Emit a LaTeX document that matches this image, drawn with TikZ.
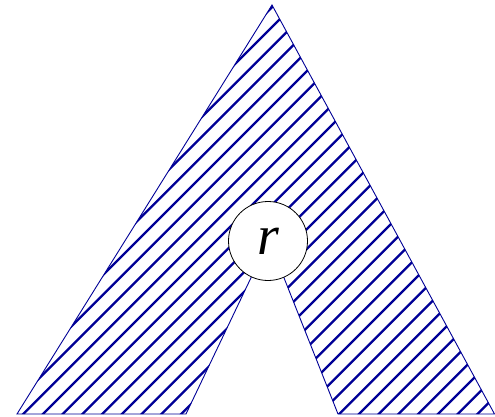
\documentclass[tikz,border=0pt]{standalone}
\usepackage{fontspec}
\setmainfont{Liberation Serif}
\definecolor{hatchblue}{RGB}{0,0,150}
\tikzset{
  hatchline/.style={draw=hatchblue,line width=2.2pt},
  outline/.style={draw=hatchblue,line width=0.9pt,line join=miter},
  rootnode/.style={circle,draw=black,line width=0.8pt,fill=white,minimum size=79pt,inner sep=0pt,font=\fontsize{56}{64}\selectfont\itshape}
}
\begin{document}
\begin{tikzpicture}[x=1pt,y=1pt]
\useasboundingbox (0,0) rectangle (495,416);
\coordinate (apex) at (272,411);
\coordinate (br) at (494.5,2);
\coordinate (ir) at (338,2);
\coordinate (mid) at (269,176);
\coordinate (il) at (186,2);
\coordinate (bl) at (17,2);
\begin{scope}
  \clip (apex) -- (br) -- (ir) -- (mid) -- (il) -- (bl) -- cycle;
  \foreach \k in {-24,...,24} {
    \draw[hatchline] ({41+19.75*\k},0) -- ++(460,460);
  }
\end{scope}
\draw[outline] (apex) -- (br) -- (ir) -- (mid) -- (il) -- (bl) -- cycle;
\node[rootnode] (r) at (268,175) {r};
\end{tikzpicture}
\end{document}
